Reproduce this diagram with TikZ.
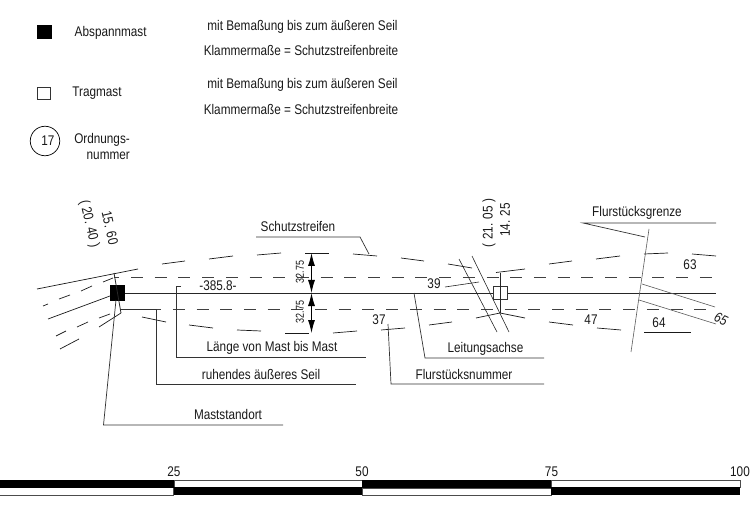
\documentclass[tikz,border=0pt]{standalone}
\usepackage{fontspec}
\setmainfont{Liberation Sans}
\usetikzlibrary{arrows.meta}
\tikzset{
  lbl/.style={inner sep=0pt,font=\fontsize{14}{16}\selectfont,text=black!90,xscale=0.84},
  smalllbl/.style={inner sep=0pt,font=\fontsize{11.5}{13}\selectfont,text=black!90,xscale=0.78},
  thinl/.style={draw=black!85,line width=0.6pt},
  axis/.style={draw=black!85,line width=0.8pt},
  seildash/.style={draw=black!75,line width=0.8pt,dash pattern=on 12pt off 11.7pt},
  arcd/.style={draw=black!90,line width=0.7pt},
  leader/.style={draw=black!80,line width=0.7pt},
  scb/.style={fill=black,draw=none},
  scw/.style={fill=white,draw=black!70,line width=0.6pt},
  dimarrow/.style={draw=black,line width=0.9pt,{Latex[length=13pt,width=7pt]}-{Latex[length=13pt,width=7pt]}}
}
\begin{document}
\begin{tikzpicture}[x=1pt,y=-1pt]
\useasboundingbox (0,0) rectangle (756,508);
% legend
\node[fill=black,minimum width=14.5pt,minimum height=14pt,inner sep=0pt] (legA) at (44.5,32) {};
\node[lbl] (tA) at (110.7,32.5) {Abspannmast};
\node[draw=black!80,line width=0.6pt,minimum width=13.5pt,minimum height=12pt,inner sep=0pt] (legT) at (44,93) {};
\node[lbl] (tT) at (97,93) {Tragmast};
\node[draw=black,line width=0.7pt,circle,minimum size=29.5pt,inner sep=0pt] (legO) at (45,141) {};
\node[lbl] (t17) at (48,141) {17};
\node[lbl,anchor=east] (tO1) at (130,140) {Ordnungs-};
\node[lbl,anchor=east] (tO2) at (130,156) {nummer};
\node[lbl] (m1) at (302.5,27) {mit Bemaßung bis zum äußeren Seil};
\node[lbl] (k1) at (301,50) {Klammermaße = Schutzstreifenbreite};
\node[lbl] (m2) at (302.5,85) {mit Bemaßung bis zum äußeren Seil};
\node[lbl] (k2) at (301,109) {Klammermaße = Schutzstreifenbreite};

% conductor lines
\draw[seildash,dash phase=6.7pt] (114,277) -- (712,277);
\draw[seildash,dash phase=18.3pt] (120,309.5) -- (707,309.5);
\node[fill=black,minimum width=15pt,minimum height=15.5pt,inner sep=0pt] (mA) at (117,293) {};
\node[draw=black!80,fill=white,line width=0.7pt,minimum width=13.5pt,minimum height=12.5pt,inner sep=0pt] (mT) at (500.5,293) {};
\draw[axis] (mA) -- (mT) -- (716,293);

% strip arcs
\foreach \a/\b/\c/\d in {37/289/138/269,162/264/185/261,209/259/233/256,257/255/281/253,305/253/329/253,353/254/377/256,401/258/424/261,448/264/472/268,496/272.5/525/269,549/264/572/261,596/259/620/256,644/254/668/253,692/254/716/256,
142/317/166/322,189/325/213/328,237/330/261/331,285/333/309/333,333/333/357/331,381/330/405/328,429/325/452/322,476/318/500/313,500/313/525/318,549/322/573/325,597/328/621/330,644/332/691/332,
43/306/48/304,59/299/70/295,81/291/92/286,103/282/113/278,48/319/110/296,56/336/66/331,77/327/88/322,99/318/110/314,60/349/79/339,99/327/121/313}
  \draw[arcd] (\a,\b) -- (\c,\d);

% mast lines
\draw[thinl,line width=0.8pt] (114,273) -- (121,313);
\draw[thinl] (500,273) -- (500,313);
\draw[thinl] (459,259) -- (497,332);
\draw[thinl] (472,256) -- (509,332);
\draw[thinl] (445,287) -- (479,282);
\draw[thinl,draw=black!65] (649,229) -- (631,352);
\draw[thinl,draw=black!65] (642,284) -- (715,307);
\draw[thinl,draw=black!65] (639,300) -- (716,324);

% dimension arrows
\coordinate (dTop) at (311.5,253);
\coordinate (dAxis) at (311.5,293);
\coordinate (dBot) at (311.5,333);
\draw[dimarrow] (dTop) -- (dAxis);
\draw[dimarrow] (dAxis) -- (dBot);
\node[rotate=90,smalllbl] (d1) at (300,272) {32.75};
\node[rotate=90,smalllbl] (d2) at (300,312) {32.75};

% leaders
\draw[leader] (116,300) -- (103.5,425) -- (283,425);
\draw[leader] (120,309.5) -- (156,309.5) -- (156,384) -- (356,384);
\draw[leader] (181,286) -- (176,286) -- (176,357) -- (366,357);
\draw[leader] (414,293) -- (425,358) -- (544,358);
\draw[leader] (388,324) -- (391,384) -- (544,384);
\draw[leader] (369,254) -- (360,237) -- (256,237);
\draw[leader] (645,237) -- (583,223) -- (716,223);

% labels
\node[rotate=-77,lbl] (v1) at (110,228) {15. 60};
\node[rotate=-77,lbl] (v2) at (89,224) {( 20. 40 )};
\node[rotate=90,lbl] (v3) at (489,223) {( 21. 05 )};
\node[rotate=90,lbl] (v4) at (505,220) {14. 25};
\node[lbl] (l385) at (218,285.5) {-385.8-};
\node[lbl] (lLaenge) at (272,348) {Länge von Mast bis Mast};
\node[lbl] (lRuhend) at (261,374) {ruhendes äußeres Seil};
\node[lbl] (lMast) at (228,414) {Maststandort};
\node[lbl] (lSchutz) at (298,226) {Schutzstreifen};
\node[lbl] (l39) at (434,284) {39};
\node[lbl] (l37) at (379,320) {37};
\node[lbl] (lLeit) at (485.5,349) {Leitungsachse};
\node[lbl] (lFnr) at (464,374) {Flurstücksnummer};
\node[lbl] (lFg) at (637,213) {Flurstücksgrenze};
\node[lbl] (l63) at (690,265) {63};
\node[lbl] (l47) at (591,320) {47};
\node[lbl] (l64) at (659,323) {64};
\node[rotate=-25,lbl,font=\fontsize{14}{16}\selectfont\itshape] (l65) at (721,319) {65};

% scale bar
\fill[scb] (0,480) rectangle (174,488);
\draw[scw] (0,495) -- (173.5,495) -- (173.5,488);
\draw[scw] (174,480.3) rectangle (362,487);
\fill[scb] (173.5,487) rectangle (362.5,495);
\fill[scb] (362,480) rectangle (551.5,488);
\draw[scw] (362.5,488) rectangle (551,495);
\draw[scw] (551,480.3) rectangle (740,487);
\fill[scb] (551,487) rectangle (740,495);
\node[lbl] (s25) at (174,472) {25};
\node[lbl] (s50) at (362,472) {50};
\node[lbl] (s75) at (551.5,472) {75};
\node[lbl] (s100) at (740,472) {100};
\end{tikzpicture}
\end{document}
